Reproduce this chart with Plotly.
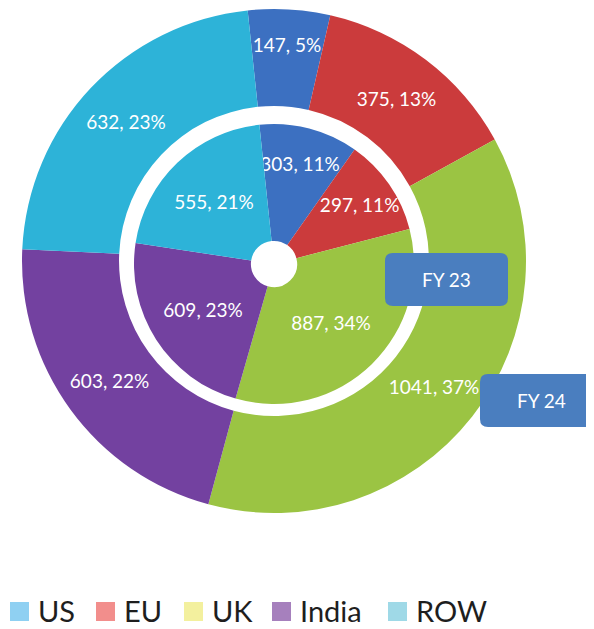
import plotly.graph_objects as go

W, H = 594, 629
OFF = 8  # page body margin: the figure is drawn 8 px in from the window corner

regions = ["US", "EU", "UK", "India", "ROW"]
fy23 = [303, 297, 887, 609, 555]
fy23_pct = [11, 11, 34, 23, 21]
fy24 = [147, 375, 1041, 603, 632]
fy24_pct = [5, 13, 37, 22, 23]

slice_colors = ["#3C70C1", "#CB3B3C", "#9BC443", "#7341A0", "#2DB3D8"]
legend_colors = ["#8FD0F2", "#F28E8C", "#F3F09E", "#A680BD", "#9FD9E7"]

label_font = dict(family="Lato", size=19, color="white")


def px(x):
    return (x - OFF) / W


def py(y):
    return 1 - (y - OFF) / H


def px_domain(cx, cy, r):
    # window pixel centre/radius -> paper domain (margins are zero)
    return dict(x=[px(cx - r), px(cx + r)], y=[py(cy + r), py(cy - r)])


fig = go.Figure()

# outer ring FY 24
fig.add_trace(go.Pie(
    values=fy24, labels=regions,
    text=[f"{v}, {p}%" for v, p in zip(fy24, fy24_pct)],
    textinfo="text", textposition="inside", insidetextorientation="horizontal",
    textfont=label_font, hoverinfo="label+value",
    hole=0.615, domain=px_domain(274, 261, 252),
    rotation=-6, direction="clockwise", sort=False,
    marker=dict(colors=slice_colors, line=dict(width=0)),
    showlegend=False,
))

# inner ring FY 23
fig.add_trace(go.Pie(
    values=fy23, labels=regions,
    text=[f"{v}, {p}%" for v, p in zip(fy23, fy23_pct)],
    textinfo="text", textposition="inside", insidetextorientation="horizontal",
    textfont=label_font, hoverinfo="label+value",
    hole=0.165, domain=px_domain(274, 264, 140),
    rotation=-6, direction="clockwise", sort=False,
    marker=dict(colors=slice_colors, line=dict(width=0)),
    showlegend=False,
))


def rounded_box(x0, y0, x1, y1, r):
    def p(x, y):
        return f"{px(x):.5f},{py(y):.5f}"
    return (f"M {p(x0 + r, y0)} L {p(x1 - r, y0)} Q {p(x1, y0)} {p(x1, y0 + r)} "
            f"L {p(x1, y1 - r)} Q {p(x1, y1)} {p(x1 - r, y1)} "
            f"L {p(x0 + r, y1)} Q {p(x0, y1)} {p(x0, y1 - r)} "
            f"L {p(x0, y0 + r)} Q {p(x0, y0)} {p(x0 + r, y0)} Z")


# series name boxes
boxes = [("FY 23", 385, 253, 508, 306, 446), ("FY 24", 480, 374, 620, 427, 541)]
for txt, x0, y0, x1, y1, tx in boxes:
    fig.add_shape(type="path", xref="paper", yref="paper",
                  path=rounded_box(x0, y0, x1, y1, 8),
                  fillcolor="#4A7EBF", line=dict(width=0))
    fig.add_annotation(x=px(tx), y=py((y0 + y1) / 2),
                       xref="paper", yref="paper", xanchor="center", yanchor="middle",
                       text=txt, showarrow=False,
                       font=dict(family="Lato", size=19, color="white"))

# legend: light colour squares + labels along the bottom
legend_x = [10, 96, 184, 272, 388]
for name, col, lx in zip(regions, legend_colors, legend_x):
    fig.add_shape(type="rect", xref="paper", yref="paper",
                  x0=px(lx), x1=px(lx + 19), y0=py(621), y1=py(602),
                  fillcolor=col, line=dict(width=0))
    fig.add_annotation(x=px(lx + 27), y=py(610), xref="paper", yref="paper",
                       xanchor="left", yanchor="middle", text=name, showarrow=False,
                       borderpad=0,
                       font=dict(family="Lato", size=29, color="#1E1E1E"))

fig.update_layout(
    width=W, height=H,
    margin=dict(l=0, r=0, t=0, b=0),
    paper_bgcolor="white", plot_bgcolor="white",
    showlegend=False,
    uniformtext=dict(minsize=19, mode="show"),
)

fig.write_html("out.html")
